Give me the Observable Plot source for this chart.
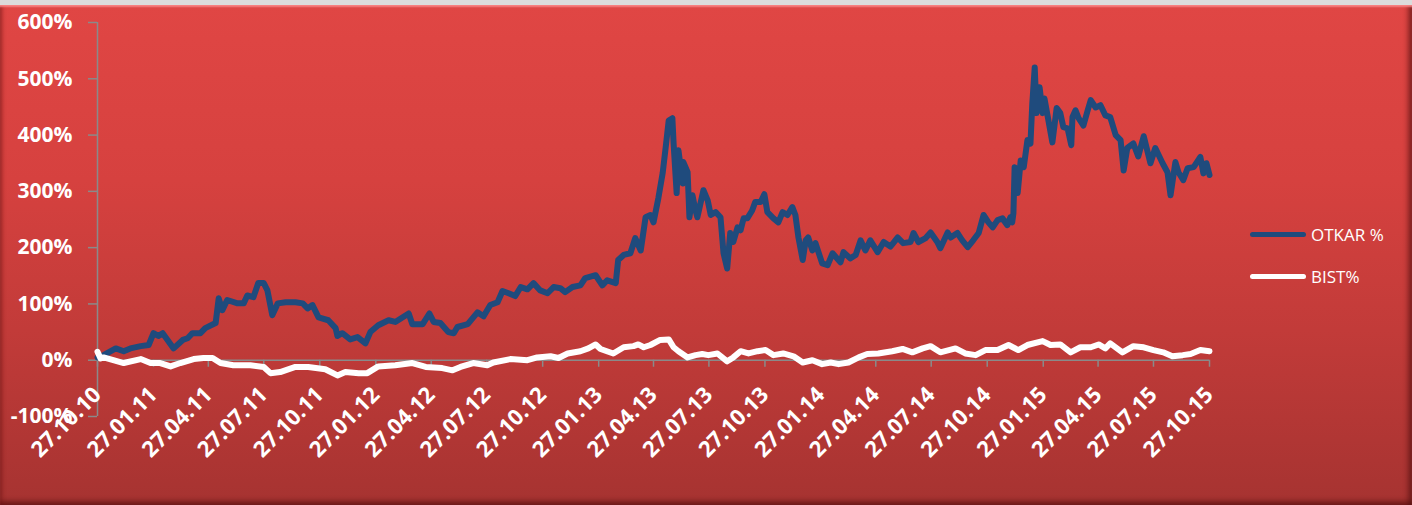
<!DOCTYPE html>
<html><head><meta charset="utf-8">
<script src="https://cdn.jsdelivr.net/npm/d3@7"></script>
<script src="https://cdn.jsdelivr.net/npm/@observablehq/plot@0.6"></script>
<style>
html,body{margin:0;padding:0;background:#dcdcdc;}
#wrap{position:relative;width:1412px;height:505px;overflow:hidden;background:#dcdcdc;}
#panel{position:absolute;left:0;top:5px;width:1412px;height:500px;
  background:linear-gradient(to bottom,#e04644 0%,#d6413f 35%,#c23b39 65%,#a63331 100%);
  box-shadow: inset 0 3px 2px -1px rgba(255,140,140,0.9), inset 4px 0 4px -2px rgba(110,20,20,0.55),
              inset -6px 0 5px -2px rgba(80,15,15,0.6), inset 0 -6px 5px -2px rgba(80,15,15,0.6);}
#chart{position:absolute;left:0;top:0;}
#chart svg text{font-family:"Open Sans",sans-serif;}
.lg{position:absolute;left:1250px;height:20px;display:flex;align-items:center;font-family:"Open Sans",sans-serif;font-size:17px;color:#fff;}
.sw{width:56px;height:5px;border-radius:3px;margin-right:5px;}
</style></head>
<body>
<div id="wrap"><div id="panel"></div><div id="chart"></div>
<div class="lg" style="top:224px"><div class="sw" style="background:#1f4b7d"></div>OTKAR %</div>
<div class="lg" style="top:266px"><div class="sw" style="background:#ffffff"></div>BIST%</div>
</div>
<script>
// [days since 27.10.2010, % change]
const otkarPoints = [[0,5],[5,6],[10,9],[30,21],[43,16],[54,21],[71,25],[84,27],[92,48],[100,43],[107,48],[115,36],[125,21],[140,36],[148,39],[156,48],[169,48],[177,57],[194,66],[199,110],[205,89],[213,107],[230,101],[240,101],[246,115],[256,112],[264,137],[273,137],[279,124],[287,80],[296,101],[309,103],[325,103],[337,101],[345,92],[353,98],[363,76],[379,71],[391,57],[394,43],[402,48],[415,37],[427,41],[440,30],[448,50],[461,62],[478,71],[489,68],[511,83],[517,64],[534,64],[545,83],[552,68],[563,66],[576,50],[585,48],[591,59],[608,64],[624,85],[634,78],[645,98],[657,103],[665,123],[675,119],[686,114],[695,130],[706,126],[716,137],[727,124],[739,119],[749,130],[760,128],[768,121],[780,130],[793,133],[801,146],[818,151],[829,133],[837,142],[851,137],[855,178],[864,187],[875,190],[883,217],[892,195],[900,254],[908,258],[913,245],[921,288],[928,332],[933,378],[938,426],[944,430],[946,385],[951,297],[954,373],[961,314],[962,352],[969,334],[972,254],[977,293],[982,266],[985,254],[995,302],[1002,284],[1007,258],[1015,263],[1023,254],[1028,190],[1034,163],[1039,226],[1044,210],[1051,236],[1056,231],[1061,252],[1067,252],[1075,266],[1080,281],[1089,281],[1095,295],[1100,263],[1110,252],[1118,245],[1125,263],[1133,258],[1141,272],[1146,258],[1151,218],[1158,178],[1163,213],[1167,218],[1174,195],[1179,208],[1190,172],[1199,169],[1207,190],[1220,174],[1225,192],[1236,181],[1245,187],[1253,213],[1261,195],[1269,213],[1281,192],[1291,210],[1302,202],[1314,218],[1323,208],[1335,210],[1340,226],[1348,210],[1360,217],[1368,227],[1379,210],[1384,199],[1396,227],[1401,218],[1412,226],[1420,213],[1429,201],[1438,213],[1447,226],[1455,258],[1463,245],[1470,236],[1478,249],[1486,252],[1494,240],[1499,254],[1502,245],[1504,261],[1506,343],[1511,297],[1516,355],[1521,343],[1527,391],[1532,385],[1535,456],[1539,520],[1542,439],[1547,485],[1552,439],[1555,465],[1560,435],[1568,387],[1575,448],[1581,439],[1586,414],[1593,412],[1599,382],[1601,432],[1606,444],[1611,430],[1619,417],[1626,444],[1631,462],[1639,449],[1647,453],[1655,435],[1663,432],[1672,400],[1680,391],[1685,337],[1691,377],[1701,385],[1709,362],[1718,398],[1729,350],[1737,377],[1749,350],[1757,334],[1762,293],[1770,352],[1775,334],[1783,320],[1790,341],[1800,343],[1811,361],[1816,332],[1821,350],[1826,329]];
const bistPoints = [[0,15],[5,3],[10,5],[26,0],[43,-5],[71,2],[87,-5],[103,-5],[120,-11],[136,-5],[158,2],[174,4],[189,4],[202,-5],[223,-9],[251,-9],[273,-12],[284,-23],[300,-21],[325,-12],[346,-12],[374,-16],[394,-27],[407,-21],[429,-23],[443,-23],[461,-11],[489,-9],[517,-5],[539,-12],[566,-14],[583,-18],[596,-12],[617,-5],[640,-9],[650,-4],[678,2],[706,0],[722,5],[744,7],[757,4],[772,12],[793,16],[806,21],[818,28],[826,20],[847,12],[864,23],[880,25],[888,28],[897,23],[908,27],[924,36],[938,37],[946,23],[954,16],[969,5],[982,9],[993,11],[1003,9],[1018,12],[1034,-2],[1044,5],[1056,16],[1069,12],[1084,16],[1097,18],[1110,9],[1126,12],[1143,7],[1158,-4],[1174,0],[1190,-7],[1204,-4],[1217,-7],[1233,-4],[1250,5],[1264,11],[1282,12],[1305,16],[1322,20],[1338,14],[1355,21],[1368,25],[1384,14],[1409,21],[1425,12],[1442,9],[1458,18],[1478,18],[1496,27],[1512,18],[1527,27],[1552,34],[1565,27],[1581,28],[1598,14],[1614,23],[1631,23],[1644,28],[1655,21],[1663,30],[1683,14],[1701,25],[1718,23],[1734,18],[1750,14],[1765,7],[1782,9],[1795,11],[1811,18],[1826,16]];
const xTickLabels = ["27.10.10","27.01.11","27.04.11","27.07.11","27.10.11","27.01.12","27.04.12","27.07.12","27.10.12","27.01.13","27.04.13","27.07.13","27.10.13","27.01.14","27.04.14","27.07.14","27.10.14","27.01.15","27.04.15","27.07.15","27.10.15"];
const yTicks = [-100,0,100,200,300,400,500,600];

const parse = d3.utcParse("%d.%m.%y");
const start = parse("27.10.10"), end = parse("27.10.15");
const toRows = pts => pts.map(([d,v]) => ({date: d3.utcDay.offset(start, d), v}));
const otkar = toRows(otkarPoints), bist = toRows(bistPoints);
const xTicks = xTickLabels.map(l => ({date: parse(l), label: l}));
const gray = "#8a8a8a";

const chart = Plot.plot({
  width: 1412, height: 505,
  marginLeft: 97, marginRight: 203, marginTop: 22, marginBottom: 89,
  style: {background: "transparent", overflow: "visible", fontFamily: "Open Sans"},
  x: {type: "utc", domain: [start, end], axis: null},
  y: {domain: [-100, 600], axis: null},
  marks: [
    Plot.ruleX([start], {stroke: gray, strokeWidth: 1.5}),
    Plot.axisY(yTicks, {label: null, tickSize: 9, tickPadding: 16, tickFormat: d => d + "%", stroke: gray, strokeWidth: 1.5,
      fill: "#fff", fontSize: 21, fontWeight: "bold"}),
    Plot.ruleY([0], {stroke: gray, strokeWidth: 1.5}),
    Plot.ruleX(xTicks, {x: "date", y1: 0, y2: -12.5, stroke: gray, strokeWidth: 1.5}),
    Plot.line(otkar, {x: "date", y: "v", stroke: "#1f4b7d", strokeWidth: 6, strokeLinejoin: "round", strokeLinecap: "round"}),
    Plot.line(bist, {x: "date", y: "v", stroke: "#ffffff", strokeWidth: 6, strokeLinejoin: "round", strokeLinecap: "round"}),
    Plot.text(xTicks, {x: "date", y: 0, text: "label", rotate: -45, textAnchor: "end", dx: 0, dy: 31,
      fill: "#fff", fontSize: 22, fontWeight: "bold"})
  ]
});
document.getElementById("chart").appendChild(chart);
</script>
</body></html>
